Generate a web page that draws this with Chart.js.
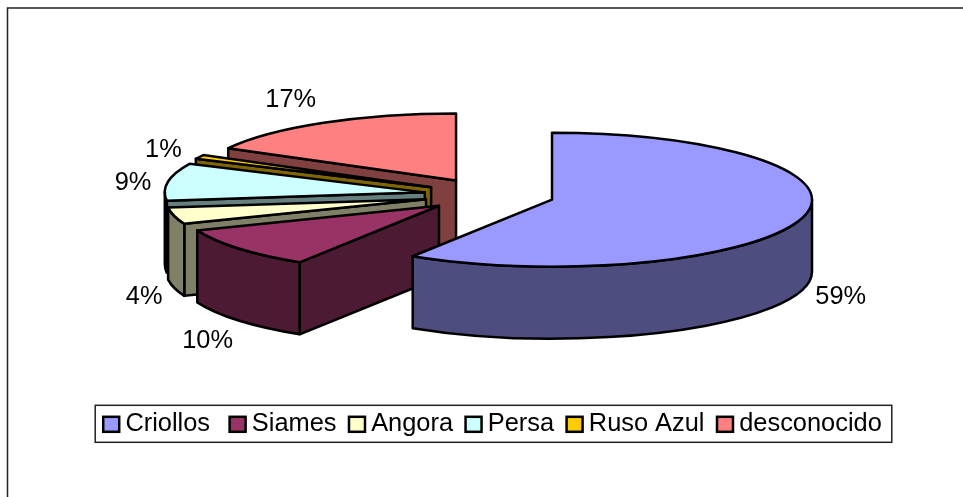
<!DOCTYPE html>
<html>
<head>
<meta charset="utf-8">
<style>
  html, body { margin: 0; padding: 0; background: #fff; }
  canvas { display: block; }
</style>
<script src="https://cdn.jsdelivr.net/npm/chart.js@4/dist/chart.umd.min.js"></script>
</head>
<body>
<canvas id="catsPie" width="963" height="497"></canvas>
<script>
// data
const razas = ['Criollos', 'Siames', 'Angora', 'Persa', 'Ruso Azul', 'desconocido'];
const porcentajes = [59, 10, 4, 9, 1, 17];

// colours: top face / side walls
const colorTop = ['#9999FF', '#993366', '#FFFFCC', '#CCFFFF', '#FFCC00', '#FF8080'];
const colorWall = ['#4D4D80', '#4D1A33', '#808066', '#668080', '#806600', '#804040'];

// fake 3D settings
const squash = 0.2577;
const explode = 65.3;
const depth = 72;
const pieX = 489.3;
const pieY = 195;

// percent label nudges, from the rim point of each slice
const labelNudge = [[39, 7], [-31, 21], [-30, 9], [-35, 1], [-36, -7], [-33, -23]];

function sliceGeom(el) {
  const mid = (el.startAngle + el.endAngle) / 2;
  return {
    mid,
    r: el.outerRadius,
    x: pieX + Math.cos(mid) * explode,
    y: pieY + Math.sin(mid) * explode * squash,
  };
}

function drawWalls(ctx, el, i) {
  const g = sliceGeom(el);
  const a0 = el.startAngle;
  const a1 = el.endAngle;
  ctx.fillStyle = colorWall[i];

  const face = (a) => {
    ctx.beginPath();
    ctx.moveTo(g.x, g.y);
    ctx.lineTo(g.x + Math.cos(a) * g.r, g.y + Math.sin(a) * g.r * squash);
    ctx.lineTo(g.x + Math.cos(a) * g.r, g.y + Math.sin(a) * g.r * squash + depth);
    ctx.lineTo(g.x, g.y + depth);
    ctx.closePath();
    ctx.fill();
    ctx.stroke();
  };
  if (Math.cos(a0) < 0) face(a0);
  if (Math.cos(a1) > 0) face(a1);

  // outer wall, only the front half of the ellipse shows
  const from = Math.max(a0, 0);
  const to = Math.min(a1, Math.PI);
  if (to > from) {
    ctx.beginPath();
    ctx.ellipse(g.x, g.y, g.r, g.r * squash, 0, from, to);
    ctx.ellipse(g.x, g.y + depth, g.r, g.r * squash, 0, to, from, true);
    ctx.closePath();
    ctx.fill();
    ctx.stroke();
  }
}

function drawTop(ctx, el) {
  const g = sliceGeom(el);
  // the arc element fills its own face, squashed into an ellipse
  ctx.save();
  ctx.translate(g.x, g.y);
  ctx.scale(1, squash);
  ctx.translate(-el.x, -el.y);
  el.draw(ctx);
  ctx.restore();
  ctx.beginPath();
  ctx.moveTo(g.x, g.y);
  ctx.ellipse(g.x, g.y, g.r, g.r * squash, 0, el.startAngle, el.endAngle);
  ctx.closePath();
  ctx.stroke();
}

const pie3d = {
  id: 'pie3d',
  beforeDatasetDraw(chart, args) {
    const ctx = chart.ctx;
    const arcs = chart.getDatasetMeta(args.index).data;
    ctx.save();
    ctx.strokeStyle = '#000';
    ctx.lineWidth = 2.5;
    ctx.lineJoin = 'round';
    // back to front
    for (let i = arcs.length - 1; i >= 0; i--) {
      drawWalls(ctx, arcs[i], i);
      drawTop(ctx, arcs[i]);
    }
    ctx.restore();
    return false;
  },
  afterDraw(chart) {
    const ctx = chart.ctx;
    const arcs = chart.getDatasetMeta(0).data;

    // percent labels
    ctx.save();
    ctx.fillStyle = '#000';
    ctx.font = '25.4px "Liberation Sans"';
    ctx.textAlign = 'center';
    ctx.textBaseline = 'middle';
    arcs.forEach((el, i) => {
      const g = sliceGeom(el);
      const rimX = g.x + Math.cos(g.mid) * g.r;
      const rimY = g.y + Math.sin(g.mid) * g.r * squash + (Math.sin(g.mid) > 0 ? depth : 0);
      ctx.fillText(porcentajes[i] + '%', rimX + labelNudge[i][0], rimY + labelNudge[i][1]);
    });
    ctx.restore();

    // outer frame, open on the right and at the bottom
    ctx.save();
    ctx.strokeStyle = '#222';
    ctx.lineWidth = 1.5;
    ctx.beginPath();
    ctx.moveTo(7.5, 497);
    ctx.lineTo(7.5, 8);
    ctx.lineTo(963, 8);
    ctx.stroke();

    // legend frame and swatches
    const boxes = chart.legend.legendHitBoxes;
    const first = boxes[0];
    const last = boxes[boxes.length - 1];
    const midY = first.top + first.height / 2;
    ctx.strokeRect(first.left - 8, midY - 19, last.left + last.width + 10 - (first.left - 8), 37);
    ctx.strokeStyle = '#000';
    ctx.lineWidth = 2.5;
    boxes.forEach((b, i) => {
      ctx.fillStyle = colorTop[i];
      ctx.fillRect(b.left, midY - 7.5, 16, 15);
      ctx.strokeRect(b.left, midY - 7.5, 16, 15);
    });
    ctx.restore();
  },
};

new Chart(document.getElementById('catsPie'), {
  type: 'pie',
  data: {
    labels: razas,
    datasets: [{
      data: porcentajes,
      backgroundColor: colorTop,
      borderWidth: 0,
    }],
  },
  options: {
    responsive: false,
    animation: false,
    radius: 260,
    layout: { padding: { left: 22, bottom: 50 } },
    plugins: {
      tooltip: { enabled: false },
      legend: {
        position: 'bottom',
        labels: {
          color: '#000',
          font: { family: '"Liberation Sans"', size: 25.4 },
          boxWidth: 9.5,
          boxHeight: 15,
          padding: 12.5,
          // swatches are drawn in the plugin, so the text can sit closer
          // the trailing space on the first item gives the wider gap after Criollos
          generateLabels: () => razas.map((r, i) => ({
            text: i === 0 ? r + ' ' : r,
            fillStyle: 'rgba(0,0,0,0)',
            strokeStyle: 'rgba(0,0,0,0)',
            lineWidth: 0,
            index: i,
          })),
        },
      },
    },
  },
  plugins: [pie3d],
});
</script>
</body>
</html>
